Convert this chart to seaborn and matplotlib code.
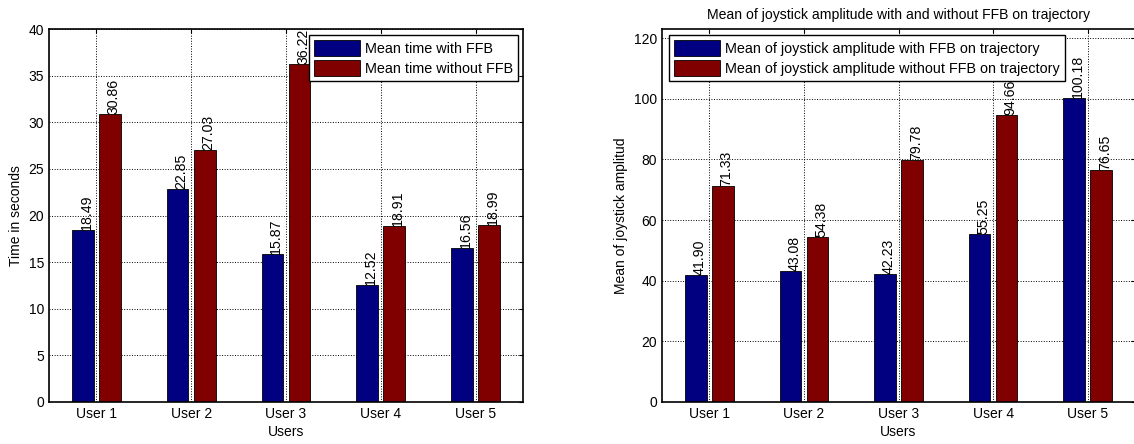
import pandas as pd
import matplotlib
matplotlib.use("Agg")
import matplotlib.pyplot as plt
import seaborn as sns

users = ["User 1", "User 2", "User 3", "User 4", "User 5"]

time_with = [18.49, 22.85, 15.87, 12.52, 16.56]
time_without = [30.86, 27.03, 36.22, 18.91, 18.99]
time_series = ["Mean time with FFB", "Mean time without FFB"]

amp_with = [41.90, 43.08, 42.23, 55.25, 100.18]
amp_without = [71.33, 54.38, 79.78, 94.66, 76.65]
amp_series = ["Mean of joystick amplitude with FFB on trajectory",
              "Mean of joystick amplitude without FFB on trajectory"]

colors = ["#000080", "#800000"]

sns.set_style("white")
plt.rcParams["font.family"] = ["Liberation Sans", "DejaVu Sans"]
for k in ["text.color", "axes.labelcolor", "xtick.color", "ytick.color"]:
    plt.rcParams[k] = "black"


def long_table(a, b, names):
    return pd.DataFrame({
        "user": users * 2,
        "series": [names[0]] * len(users) + [names[1]] * len(users),
        "value": list(a) + list(b),
    })


def draw(ax, df, names, ylim, yticks, ylabel, legend_anchor, legend_loc):
    sns.barplot(data=df, x="user", y="value", hue="series", hue_order=names,
                palette=colors, width=0.57, gap=0.2, edgecolor="black",
                linewidth=0.6, saturation=1, ax=ax)
    ax.set_xlim(-0.5, len(users) - 0.5)
    ax.set_ylim(*ylim)
    ax.set_yticks(yticks)
    ax.set_axisbelow(True)
    ax.grid(True, linestyle=":", color="black", linewidth=0.7)
    ax.tick_params(direction="in", top=True, right=True, length=3,
                   labelsize=10, width=0.8, colors="black")
    for s in ax.spines.values():
        s.set_linewidth(1.2)
        s.set_color("black")
    ax.set_xlabel("Users", fontsize=10, labelpad=3)
    ax.set_ylabel(ylabel, fontsize=10)

    # value labels, rotated, sitting on top of each bar
    for cont in ax.containers:
        for bar in cont:
            h = bar.get_height()
            ax.text(bar.get_x() + bar.get_width() / 2 + 0.04, h, f"{h:.2f}",
                    rotation=90, ha="center", va="bottom", fontsize=10.2,
                    zorder=3)

    handles, labels = ax.get_legend_handles_labels()
    ax.legend(handles, labels, loc=legend_loc, bbox_to_anchor=legend_anchor,
              borderaxespad=0, fontsize=10.4, frameon=True, fancybox=False,
              framealpha=1, edgecolor="black", handlelength=3.2,
              handleheight=1.3, handletextpad=0.3, labelspacing=0.3,
              borderpad=0.35).set_zorder(10)


fig = plt.figure(figsize=(11.34, 4.44), dpi=100)
ax1 = fig.add_axes([0.0432, 0.0946, 0.418, 0.840])
ax2 = fig.add_axes([0.5838, 0.0946, 0.4171, 0.840])

draw(ax1, long_table(time_with, time_without, time_series), time_series,
     (0, 40), range(0, 41, 5), "Time in seconds", (0.989, 0.984), "upper right")
draw(ax2, long_table(amp_with, amp_without, amp_series), amp_series,
     (0, 123), range(0, 121, 20), "Mean of joystick amplitud", (0.015, 0.984),
     "upper left")
ax2.set_title("Mean of joystick amplitude with and without FFB on trajectory",
              fontsize=10.1, pad=7)

fig.savefig("out.png", dpi=100)
